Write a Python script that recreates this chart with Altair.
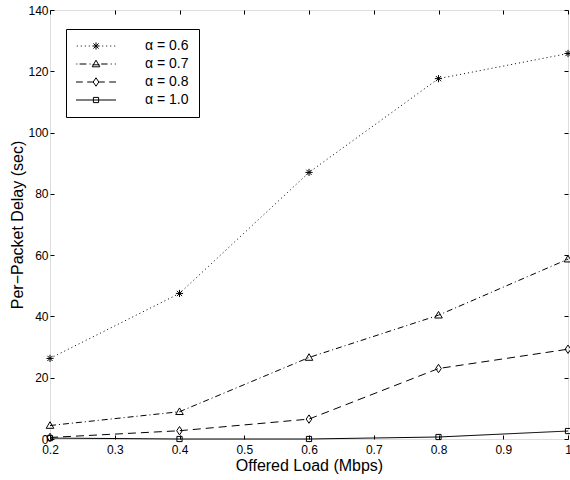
import altair as alt
import pandas as pd

# ---- data ----
loads = [0.2, 0.4, 0.6, 0.8, 1.0]
series_names = ["α = 0.6", "α = 0.7", "α = 0.8", "α = 1.0"]
delay_06 = [26.3, 47.5, 87.0, 117.6, 125.8]
delay_07 = [4.4, 8.9, 26.6, 40.4, 58.7]
delay_08 = [0.5, 2.7, 6.5, 23.0, 29.3]
delay_10 = [0.3, 0.0, 0.0, 0.65, 2.6]
x_ticks = [0.2, 0.3, 0.4, 0.5, 0.6, 0.7, 0.8, 0.9, 1.0]
y_ticks = [0, 20, 40, 60, 80, 100, 120, 140]

rows = []
for name, vals in zip(series_names, [delay_06, delay_07, delay_08, delay_10]):
    for xv, yv in zip(loads, vals):
        rows.append({"load": xv, "delay": yv, "series": name})
df = pd.DataFrame(rows)

# ---- styles ----
dashes = [[1, 3], [6, 3, 1, 3], [8, 5], [1, 0]]
STAR = "M-0.9,0H0.9M0,-0.9V0.9M-0.65,-0.65L0.65,0.65M-0.65,0.65L0.65,-0.65"
TRI = "M0,-0.95L0.95,0.7L-0.95,0.7Z"
DIA = "M0,-1.05L0.7,0L0,1.05L-0.7,0Z"
SQ = "M-0.65,-0.65H0.65V0.65H-0.65Z"
markers = [STAR, TRI, DIA, SQ]
legend_paths = [
    "M-4.8,0h0.25M-3.8,0h0.25M-2.8,0h0.25M-1.8,0h0.25M1.55,0h0.25M2.55,0h0.25M3.55,0h0.25M4.55,0h0.25" + STAR,
    "M-4.9,0h0.25M-4.1,0H-2.4M-1.6,0h0.25M-0.9,0.2H0.9M1.3,0H2.9M3.7,0h0.25M4.7,0h0.25" + TRI,
    "M-5,0H-3.3M-2.2,0H-0.7M0.7,0H2.2M3.3,0H5" + DIA,
    "M-5,0H5" + SQ,
]

FONT = "Liberation Sans"
xscale = alt.Scale(domain=[0.2, 1.0], nice=False, zero=False)
yscale = alt.Scale(domain=[0, 140], nice=False)

common_axis = dict(
    offset=-4, tickSize=4, domain=False, grid=False, tickColor="black",
    tickWidth=1, labelColor="black", labelFont=FONT, labelFontSize=12,
    labelFlush=False,
)

lines = alt.Chart(df).mark_line(color="black", strokeWidth=1).encode(
    x=alt.X("load:Q", scale=xscale,
            axis=alt.Axis(orient="bottom", values=x_ticks, format="~g",
                          title="Offered Load (Mbps)", titleFont=FONT,
                          titleFontSize=16, titleFontWeight="normal",
                          titleColor="black", titlePadding=2, labelPadding=5,
                          **common_axis)),
    y=alt.Y("delay:Q", scale=yscale,
            axis=alt.Axis(orient="left", values=y_ticks,
                          title="Per−Packet Delay (sec)", titleFont=FONT,
                          titleFontSize=16, titleFontWeight="normal",
                          titleColor="black", titlePadding=2, labelPadding=2,
                          **common_axis)),
    strokeDash=alt.StrokeDash("series:N",
                              scale=alt.Scale(domain=series_names, range=dashes),
                              legend=None),
)

points = alt.Chart(df).mark_point(filled=False, color="black", strokeWidth=1,
                                  size=64, opacity=1).encode(
    x=alt.X("load:Q", scale=xscale,
            axis=alt.Axis(orient="top", values=x_ticks, labels=False, title=None,
                          **common_axis)),
    y=alt.Y("delay:Q", scale=yscale,
            axis=alt.Axis(orient="right", values=y_ticks, labels=False, title=None,
                          **common_axis)),
    shape=alt.Shape("series:N", scale=alt.Scale(domain=series_names, range=markers),
                    legend=None),
)

legend_layer = alt.Chart(df).transform_filter("false").mark_point(
    filled=False, color="black", strokeWidth=1, size=64, opacity=1
).encode(
    x=alt.X("load:Q", scale=xscale, axis=None),
    y=alt.Y("delay:Q", scale=yscale, axis=None),
    shape=alt.Shape("series:N",
                    scale=alt.Scale(domain=series_names, range=legend_paths),
                    legend=alt.Legend(orient="none", legendX=16, legendY=19,
                                      title=None, padding=10, rowPadding=4,
                                      strokeColor="black", fillColor="white",
                                      labelFont=FONT, labelFontSize=14,
                                      labelColor="black", labelOffset=42,
                                      symbolOffset=13,
                                      symbolSize=64, symbolStrokeColor="black",
                                      symbolStrokeWidth=1)),
)

chart = alt.layer(lines, points, legend_layer).resolve_scale(
    shape="independent"
).resolve_axis(
    x="independent", y="independent"
).properties(
    width=518, height=429,
    autosize=alt.AutoSizeParams(type="none"),
    padding={"left": 50, "top": 10, "right": 2, "bottom": 41},
).configure_view(stroke="black", strokeWidth=1.5).configure(background="white")

chart.save("out.html", embed_options={"renderer": "svg", "actions": False})
